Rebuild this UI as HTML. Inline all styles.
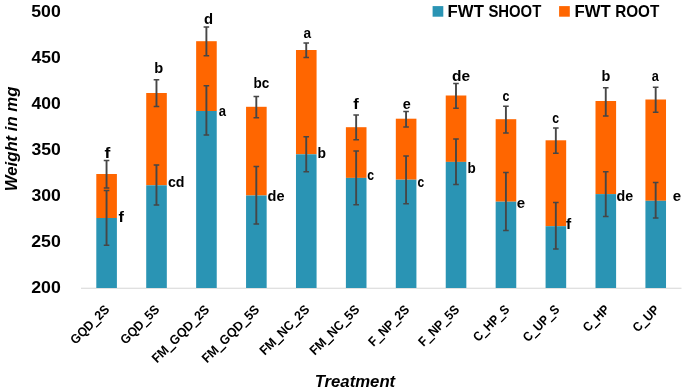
<!DOCTYPE html>
<html><head><meta charset="utf-8"><title>chart</title>
<style>html,body{margin:0;padding:0;background:#fff;overflow:hidden}svg{display:block;position:absolute;left:0;top:0;will-change:transform}</style></head>
<body>
<svg width="685" height="390" viewBox="0 0 685 390" font-family="Liberation Sans, sans-serif" font-weight="bold" fill="#000">
<rect width="685" height="390" fill="#fff"/>
<text transform="translate(31.27,16.75) scale(1.0635,1)" font-size="16.63">500</text>
<text transform="translate(31.54,62.87) scale(1.0537,1)" font-size="16.63">450</text>
<text transform="translate(31.54,108.99) scale(1.0537,1)" font-size="16.63">400</text>
<text transform="translate(31.40,155.11) scale(1.0586,1)" font-size="16.63">350</text>
<text transform="translate(31.40,201.23) scale(1.0586,1)" font-size="16.63">300</text>
<text transform="translate(31.22,247.35) scale(1.0652,1)" font-size="16.63">250</text>
<text transform="translate(31.22,293.47) scale(1.0652,1)" font-size="16.63">200</text>
<rect x="81" y="287.7" width="600.5" height="1.1" fill="#d9d9d9"/>
<rect x="96.30" y="174.0" width="20.6" height="44.00" fill="#FF6600"/>
<rect x="96.30" y="218.0" width="20.6" height="70.00" fill="#2A94B4"/>
<rect x="146.22" y="93.0" width="20.6" height="92.30" fill="#FF6600"/>
<rect x="146.22" y="185.3" width="20.6" height="102.70" fill="#2A94B4"/>
<rect x="196.14" y="41.2" width="20.6" height="69.80" fill="#FF6600"/>
<rect x="196.14" y="111.0" width="20.6" height="177.00" fill="#2A94B4"/>
<rect x="246.06" y="106.8" width="20.6" height="88.70" fill="#FF6600"/>
<rect x="246.06" y="195.5" width="20.6" height="92.50" fill="#2A94B4"/>
<rect x="295.98" y="50.0" width="20.6" height="104.30" fill="#FF6600"/>
<rect x="295.98" y="154.3" width="20.6" height="133.70" fill="#2A94B4"/>
<rect x="345.90" y="127.2" width="20.6" height="50.70" fill="#FF6600"/>
<rect x="345.90" y="177.9" width="20.6" height="110.10" fill="#2A94B4"/>
<rect x="395.82" y="118.7" width="20.6" height="61.00" fill="#FF6600"/>
<rect x="395.82" y="179.7" width="20.6" height="108.30" fill="#2A94B4"/>
<rect x="445.74" y="95.5" width="20.6" height="66.40" fill="#FF6600"/>
<rect x="445.74" y="161.9" width="20.6" height="126.10" fill="#2A94B4"/>
<rect x="495.66" y="119.2" width="20.6" height="82.50" fill="#FF6600"/>
<rect x="495.66" y="201.7" width="20.6" height="86.30" fill="#2A94B4"/>
<rect x="545.58" y="140.3" width="20.6" height="85.90" fill="#FF6600"/>
<rect x="545.58" y="226.2" width="20.6" height="61.80" fill="#2A94B4"/>
<rect x="595.50" y="101.0" width="20.6" height="93.10" fill="#FF6600"/>
<rect x="595.50" y="194.1" width="20.6" height="93.90" fill="#2A94B4"/>
<rect x="645.42" y="99.5" width="20.6" height="101.30" fill="#FF6600"/>
<rect x="645.42" y="200.8" width="20.6" height="87.20" fill="#2A94B4"/>
<path d="M106.55 190.6V245.2" stroke="#464646" stroke-width="1.9" fill="none"/><path d="M103.75 190.6h5.6M103.75 245.2h5.6" stroke="#464646" stroke-width="1.5" fill="none"/>
<path d="M106.55 160.39999999999998V188.0" stroke="#464646" stroke-width="1.9" fill="none"/><path d="M103.75 160.39999999999998h5.6M103.75 188.0h5.6" stroke="#464646" stroke-width="1.5" fill="none"/>
<path d="M156.47 164.89999999999998V205.1" stroke="#464646" stroke-width="1.9" fill="none"/><path d="M153.67 164.89999999999998h5.6M153.67 205.1h5.6" stroke="#464646" stroke-width="1.5" fill="none"/>
<path d="M156.47 79.8V106.4" stroke="#464646" stroke-width="1.9" fill="none"/><path d="M153.67 79.8h5.6M153.67 106.4h5.6" stroke="#464646" stroke-width="1.5" fill="none"/>
<path d="M206.39 85.8V135.1" stroke="#464646" stroke-width="1.9" fill="none"/><path d="M203.59 85.8h5.6M203.59 135.1h5.6" stroke="#464646" stroke-width="1.5" fill="none"/>
<path d="M206.39 27.0V55.7" stroke="#464646" stroke-width="1.9" fill="none"/><path d="M203.59 27.0h5.6M203.59 55.7h5.6" stroke="#464646" stroke-width="1.5" fill="none"/>
<path d="M256.31 166.5V224.1" stroke="#464646" stroke-width="1.9" fill="none"/><path d="M253.51 166.5h5.6M253.51 224.1h5.6" stroke="#464646" stroke-width="1.5" fill="none"/>
<path d="M256.31 96.4V117.7" stroke="#464646" stroke-width="1.9" fill="none"/><path d="M253.51 96.4h5.6M253.51 117.7h5.6" stroke="#464646" stroke-width="1.5" fill="none"/>
<path d="M306.23 136.7V171.79999999999998" stroke="#464646" stroke-width="1.9" fill="none"/><path d="M303.43 136.7h5.6M303.43 171.79999999999998h5.6" stroke="#464646" stroke-width="1.5" fill="none"/>
<path d="M306.23 43.0V57.6" stroke="#464646" stroke-width="1.9" fill="none"/><path d="M303.43 43.0h5.6M303.43 57.6h5.6" stroke="#464646" stroke-width="1.5" fill="none"/>
<path d="M356.15 151.0V204.79999999999998" stroke="#464646" stroke-width="1.9" fill="none"/><path d="M353.35 151.0h5.6M353.35 204.79999999999998h5.6" stroke="#464646" stroke-width="1.5" fill="none"/>
<path d="M356.15 115.0V139.7" stroke="#464646" stroke-width="1.9" fill="none"/><path d="M353.35 115.0h5.6M353.35 139.7h5.6" stroke="#464646" stroke-width="1.5" fill="none"/>
<path d="M406.07 156.0V203.79999999999998" stroke="#464646" stroke-width="1.9" fill="none"/><path d="M403.27 156.0h5.6M403.27 203.79999999999998h5.6" stroke="#464646" stroke-width="1.5" fill="none"/>
<path d="M406.07 111.5V126.9" stroke="#464646" stroke-width="1.9" fill="none"/><path d="M403.27 111.5h5.6M403.27 126.9h5.6" stroke="#464646" stroke-width="1.5" fill="none"/>
<path d="M455.99 138.89999999999998V184.39999999999998" stroke="#464646" stroke-width="1.9" fill="none"/><path d="M453.19 138.89999999999998h5.6M453.19 184.39999999999998h5.6" stroke="#464646" stroke-width="1.5" fill="none"/>
<path d="M455.99 83.4V108.3" stroke="#464646" stroke-width="1.9" fill="none"/><path d="M453.19 83.4h5.6M453.19 108.3h5.6" stroke="#464646" stroke-width="1.5" fill="none"/>
<path d="M505.91 172.39999999999998V230.5" stroke="#464646" stroke-width="1.9" fill="none"/><path d="M503.11 172.39999999999998h5.6M503.11 230.5h5.6" stroke="#464646" stroke-width="1.5" fill="none"/>
<path d="M505.91 106.3V132.89999999999998" stroke="#464646" stroke-width="1.9" fill="none"/><path d="M503.11 106.3h5.6M503.11 132.89999999999998h5.6" stroke="#464646" stroke-width="1.5" fill="none"/>
<path d="M555.83 202.5V249.1" stroke="#464646" stroke-width="1.9" fill="none"/><path d="M553.03 202.5h5.6M553.03 249.1h5.6" stroke="#464646" stroke-width="1.5" fill="none"/>
<path d="M555.83 128.0V153.29999999999998" stroke="#464646" stroke-width="1.9" fill="none"/><path d="M553.03 128.0h5.6M553.03 153.29999999999998h5.6" stroke="#464646" stroke-width="1.5" fill="none"/>
<path d="M605.75 171.7V216.39999999999998" stroke="#464646" stroke-width="1.9" fill="none"/><path d="M602.95 171.7h5.6M602.95 216.39999999999998h5.6" stroke="#464646" stroke-width="1.5" fill="none"/>
<path d="M605.75 87.7V116.10000000000001" stroke="#464646" stroke-width="1.9" fill="none"/><path d="M602.95 87.7h5.6M602.95 116.10000000000001h5.6" stroke="#464646" stroke-width="1.5" fill="none"/>
<path d="M655.67 182.39999999999998V218.1" stroke="#464646" stroke-width="1.9" fill="none"/><path d="M652.87 182.39999999999998h5.6M652.87 218.1h5.6" stroke="#464646" stroke-width="1.5" fill="none"/>
<path d="M655.67 87.2V112.3" stroke="#464646" stroke-width="1.9" fill="none"/><path d="M652.87 87.2h5.6M652.87 112.3h5.6" stroke="#464646" stroke-width="1.5" fill="none"/>
<text transform="translate(104.44,157.80) scale(1.1328,1)" font-size="15.45">f</text>
<text transform="translate(154.35,73.10) scale(0.9486,1)" font-size="15.45">b</text>
<text transform="translate(204.11,23.80) scale(0.9614,1)" font-size="15.45">d</text>
<text transform="translate(253.62,87.60) scale(0.8752,1)" font-size="15.45">bc</text>
<text transform="translate(303.52,37.80) scale(0.9284,1)" font-size="14.70">a</text>
<text transform="translate(353.15,108.70) scale(1.0721,1)" font-size="15.45">f</text>
<text transform="translate(402.66,109.00) scale(0.9820,1)" font-size="14.70">e</text>
<text transform="translate(451.98,80.90) scale(1.0013,1)" font-size="15.45">de</text>
<text transform="translate(502.43,101.20) scale(0.8470,1)" font-size="14.70">c</text>
<text transform="translate(552.24,122.60) scale(0.8331,1)" font-size="14.70">c</text>
<text transform="translate(601.56,80.90) scale(0.9357,1)" font-size="15.45">b</text>
<text transform="translate(651.65,80.90) scale(0.8648,1)" font-size="14.70">a</text>
<text transform="translate(118.56,222.00) scale(1.0519,1)" font-size="15.45">f</text>
<text transform="translate(167.97,186.80) scale(0.9200,1)" font-size="15.45">cd</text>
<text transform="translate(218.64,116.00) scale(0.8902,1)" font-size="14.70">a</text>
<text transform="translate(267.62,201.20) scale(0.9421,1)" font-size="15.45">de</text>
<text transform="translate(317.40,158.20) scale(0.8973,1)" font-size="15.45">b</text>
<text transform="translate(367.34,179.60) scale(0.8331,1)" font-size="14.70">c</text>
<text transform="translate(417.55,187.10) scale(0.8192,1)" font-size="14.70">c</text>
<text transform="translate(467.42,173.10) scale(0.8716,1)" font-size="15.45">b</text>
<text transform="translate(516.64,207.60) scale(1.0241,1)" font-size="14.70">e</text>
<text transform="translate(566.07,229.40) scale(1.0114,1)" font-size="15.45">f</text>
<text transform="translate(616.43,201.40) scale(0.9243,1)" font-size="15.45">de</text>
<text transform="translate(672.84,201.00) scale(1.0241,1)" font-size="14.70">e</text>
<rect x="432.6" y="6.1" width="10.7" height="10.6" fill="#2A94B4"/>
<rect x="559.1" y="6.1" width="10.7" height="10.6" fill="#FF6600"/>
<text transform="translate(447.61,16.70) scale(1.0206,1)" font-size="16.44">FWT</text>
<text transform="translate(488.39,16.80) scale(0.8951,1)" font-size="16.63">SHOOT</text>
<text transform="translate(574.51,16.70) scale(1.0206,1)" font-size="16.44">FWT</text>
<text transform="translate(615.21,16.80) scale(0.9185,1)" font-size="16.63">ROOT</text>
<text transform="translate(314.63,386.50) scale(1.0460,1)" font-size="16.00" font-style="italic">Treatment</text>
<text transform="translate(17.3,190.00) rotate(-90) scale(0.9828,1) translate(-1.23,0)" font-size="17.02" font-style="italic">Weight in mg</text>
<text transform="translate(110.20,310.30) rotate(-45) scale(0.9341,1)" text-anchor="end" font-size="12.95">GQD<tspan stroke="#000" stroke-width="0.7" dy="0.6">_</tspan><tspan dy="-0.6">2S</tspan></text>
<text transform="translate(160.20,310.30) rotate(-45) scale(0.9341,1)" text-anchor="end" font-size="12.95">GQD<tspan stroke="#000" stroke-width="0.7" dy="0.6">_</tspan><tspan dy="-0.6">5S</tspan></text>
<text transform="translate(210.20,310.30) rotate(-45) scale(0.9596,1)" text-anchor="end" font-size="12.95">FM<tspan stroke="#000" stroke-width="0.7" dy="0.6">_</tspan><tspan dy="-0.6">GQD</tspan><tspan stroke="#000" stroke-width="0.7" dy="0.6">_</tspan><tspan dy="-0.6">2S</tspan></text>
<text transform="translate(260.20,310.30) rotate(-45) scale(0.9596,1)" text-anchor="end" font-size="12.95">FM<tspan stroke="#000" stroke-width="0.7" dy="0.6">_</tspan><tspan dy="-0.6">GQD</tspan><tspan stroke="#000" stroke-width="0.7" dy="0.6">_</tspan><tspan dy="-0.6">5S</tspan></text>
<text transform="translate(310.20,310.30) rotate(-45) scale(0.9510,1)" text-anchor="end" font-size="12.95">FM<tspan stroke="#000" stroke-width="0.7" dy="0.6">_</tspan><tspan dy="-0.6">NC</tspan><tspan stroke="#000" stroke-width="0.7" dy="0.6">_</tspan><tspan dy="-0.6">2S</tspan></text>
<text transform="translate(360.20,310.30) rotate(-45) scale(0.9510,1)" text-anchor="end" font-size="12.95">FM<tspan stroke="#000" stroke-width="0.7" dy="0.6">_</tspan><tspan dy="-0.6">NC</tspan><tspan stroke="#000" stroke-width="0.7" dy="0.6">_</tspan><tspan dy="-0.6">5S</tspan></text>
<text transform="translate(410.20,310.30) rotate(-45) scale(0.9239,1)" text-anchor="end" font-size="12.95">F<tspan stroke="#000" stroke-width="0.7" dy="0.6">_</tspan><tspan dy="-0.6">NP</tspan><tspan stroke="#000" stroke-width="0.7" dy="0.6">_</tspan><tspan dy="-0.6">2S</tspan></text>
<text transform="translate(460.20,310.30) rotate(-45) scale(0.9239,1)" text-anchor="end" font-size="12.95">F<tspan stroke="#000" stroke-width="0.7" dy="0.6">_</tspan><tspan dy="-0.6">NP</tspan><tspan stroke="#000" stroke-width="0.7" dy="0.6">_</tspan><tspan dy="-0.6">5S</tspan></text>
<text transform="translate(510.20,310.30) rotate(-45) scale(0.8975,1)" text-anchor="end" font-size="12.95">C<tspan stroke="#000" stroke-width="0.7" dy="0.6">_</tspan><tspan dy="-0.6">HP</tspan><tspan stroke="#000" stroke-width="0.7" dy="0.6">_</tspan><tspan dy="-0.6">S</tspan></text>
<text transform="translate(560.20,310.30) rotate(-45) scale(0.9037,1)" text-anchor="end" font-size="12.95">C<tspan stroke="#000" stroke-width="0.7" dy="0.6">_</tspan><tspan dy="-0.6">UP</tspan><tspan stroke="#000" stroke-width="0.7" dy="0.6">_</tspan><tspan dy="-0.6">S</tspan></text>
<text transform="translate(610.20,310.30) rotate(-45) scale(0.9069,1)" text-anchor="end" font-size="12.95">C<tspan stroke="#000" stroke-width="0.7" dy="0.6">_</tspan><tspan dy="-0.6">HP</tspan></text>
<text transform="translate(660.20,310.30) rotate(-45) scale(0.9160,1)" text-anchor="end" font-size="12.95">C<tspan stroke="#000" stroke-width="0.7" dy="0.6">_</tspan><tspan dy="-0.6">UP</tspan></text>
</svg>
</body></html>
